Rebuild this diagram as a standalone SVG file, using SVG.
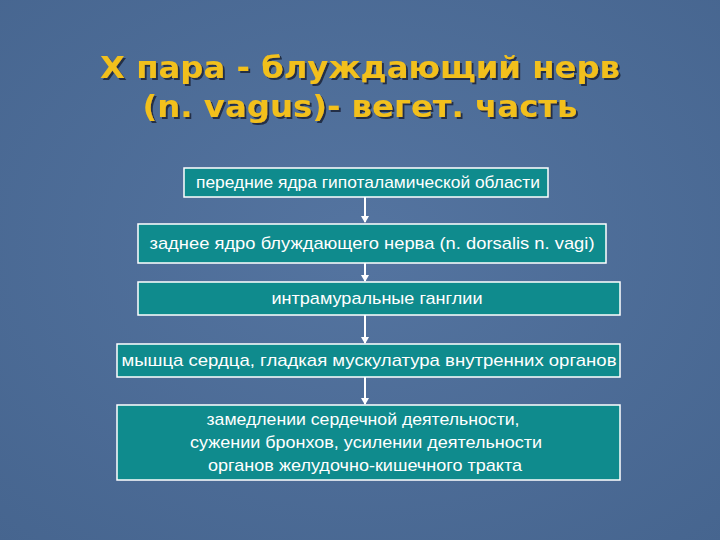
<svg xmlns="http://www.w3.org/2000/svg" width="720" height="540" viewBox="0 0 720 540">
<defs>
<style>
.box{fill:#0F8B8D;stroke:#FFFFFF;stroke-width:1.5}
.t{font-family:"Liberation Sans",Arial,sans-serif;font-size:17px;fill:#FFFFFF;text-anchor:middle}
.title{font-family:"DejaVu Sans",Verdana,sans-serif;font-weight:bold;font-size:31px;fill:#F2C01A;text-anchor:middle}
.c{stroke:#FFFFFF;stroke-width:2;fill:none}
</style>
<filter id="sh" x="-10%" y="-30%" width="120%" height="160%">
<feDropShadow dx="2" dy="2" stdDeviation="0.6" flood-color="#1E2B3C" flood-opacity="0.9"/>
</filter>
<marker id="ah" markerWidth="8" markerHeight="8" refX="6" refY="4" orient="auto" markerUnits="userSpaceOnUse">
<path d="M0,0 L7,4 L0,8 Z" fill="#FFFFFF"/>
</marker>
<radialGradient id="bg" cx="50%" cy="45%" r="75%">
<stop offset="0" stop-color="#5474A0"/>
<stop offset="1" stop-color="#46658F"/>
</radialGradient>
</defs>
<rect width="720" height="540" fill="url(#bg)"/>
<g id="title" filter="url(#sh)">
<text class="title" x="360" y="78" textLength="520" lengthAdjust="spacingAndGlyphs">X пара - блуждающий нерв</text>
<text class="title" x="360" y="117" textLength="435" lengthAdjust="spacingAndGlyphs">(n. vagus)- вегет. часть</text>
</g>
<g id="connectors">
<line class="c" x1="365" y1="197" x2="365" y2="222" marker-end="url(#ah)"/>
<line class="c" x1="365" y1="263" x2="365" y2="281" marker-end="url(#ah)"/>
<line class="c" x1="365" y1="315" x2="365" y2="343" marker-end="url(#ah)"/>
<line class="c" x1="365" y1="377" x2="365" y2="404" marker-end="url(#ah)"/>
</g>
<g id="n1">
<rect class="box" x="184" y="168" width="364" height="29"/>
<text class="t" x="368" y="188" textLength="344" lengthAdjust="spacingAndGlyphs">передние ядра гипоталамической области</text>
</g>
<g id="n2">
<rect class="box" x="138" y="224" width="468" height="39"/>
<text class="t" x="372" y="249" textLength="445" lengthAdjust="spacingAndGlyphs">заднее ядро блуждающего нерва (n. dorsalis n. vagi)</text>
</g>
<g id="n3">
<rect class="box" x="138" y="282" width="482" height="33"/>
<text class="t" x="377" y="304" textLength="211" lengthAdjust="spacingAndGlyphs">интрамуральные ганглии</text>
</g>
<g id="n4">
<rect class="box" x="117" y="344" width="503" height="33"/>
<text class="t" x="369" y="366" textLength="495" lengthAdjust="spacingAndGlyphs">мышца сердца, гладкая мускулатура внутренних органов</text>
</g>
<g id="n5">
<rect class="box" x="117" y="405" width="503" height="75"/>
<text class="t" x="363" y="425" textLength="313" lengthAdjust="spacingAndGlyphs">замедлении сердечной деятельности,</text>
<text class="t" x="366" y="448" textLength="352" lengthAdjust="spacingAndGlyphs">сужении бронхов, усилении деятельности</text>
<text class="t" x="365" y="471" textLength="314" lengthAdjust="spacingAndGlyphs">органов желудочно-кишечного тракта</text>
</g>
</svg>
